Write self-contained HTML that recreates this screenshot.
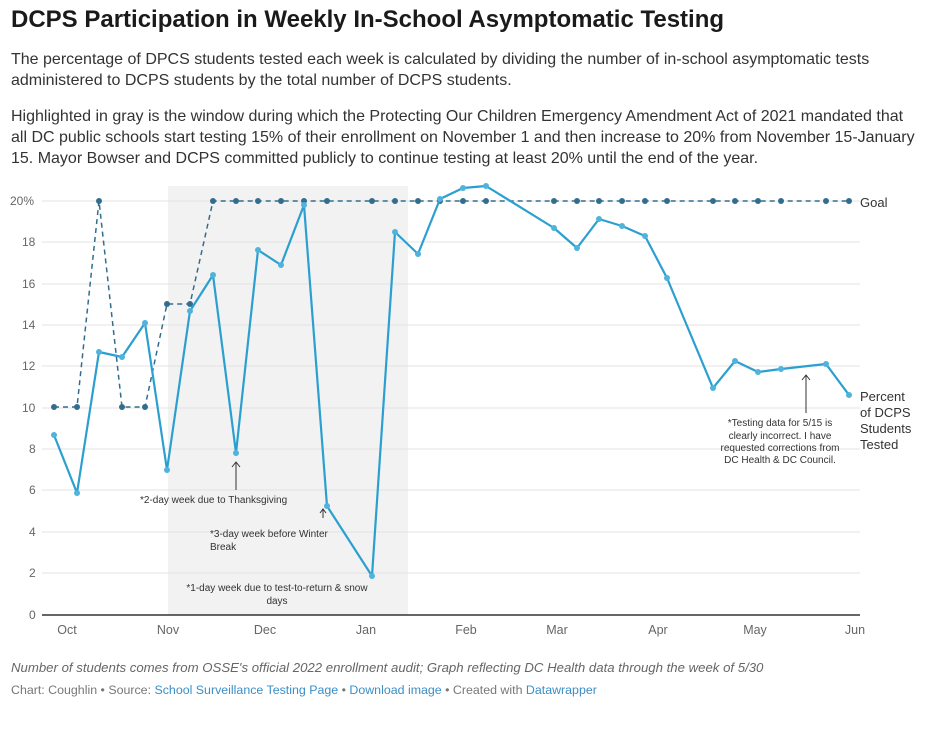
<!DOCTYPE html>
<html><head><meta charset="utf-8"><style>
body{margin:0;background:#fff;width:936px;height:734px;overflow:hidden;font-family:"Liberation Sans",sans-serif;color:#222}
h1{position:absolute;left:11px;top:6px;margin:0;font-size:24px;font-weight:bold;color:#1a1a1a;white-space:nowrap}
.d{position:absolute;left:11px;font-size:16px;line-height:21px;color:#333;white-space:nowrap}
.n{position:absolute;left:11px;top:660px;font-size:13.2px;font-style:italic;color:#666;white-space:nowrap}
.s{position:absolute;left:11px;top:683px;font-size:12.4px;color:#777;white-space:nowrap}
.s a{color:#3a8fc7}
</style></head><body>
<h1>DCPS Participation in Weekly In-School Asymptomatic Testing</h1>
<div class="d" style="top:49px">The percentage of DPCS students tested each week is calculated by dividing the number of in-school asymptomatic tests<br>administered to DCPS students by the total number of DCPS students.</div>
<div class="d" style="top:106px">Highlighted in gray is the window during which the Protecting Our Children Emergency Amendment Act of 2021 mandated that<br>all DC public schools start testing 15% of their enrollment on November 1 and then increase to 20% from November 15-January<br>15. Mayor Bowser and DCPS committed publicly to continue testing at least 20% until the end of the year.</div>
<svg style="position:absolute;left:0;top:0" width="936" height="734" font-family="Liberation Sans, sans-serif">
<rect x="168" y="186" width="240" height="429" fill="#f2f2f2"/>
<g stroke="#e3e3e3" stroke-width="1">
<line x1="42" x2="860" y1="201" y2="201"/><line x1="42" x2="860" y1="242" y2="242"/><line x1="42" x2="860" y1="284" y2="284"/><line x1="42" x2="860" y1="325" y2="325"/><line x1="42" x2="860" y1="366" y2="366"/><line x1="42" x2="860" y1="408" y2="408"/><line x1="42" x2="860" y1="449" y2="449"/><line x1="42" x2="860" y1="490" y2="490"/><line x1="42" x2="860" y1="532" y2="532"/><line x1="42" x2="860" y1="573" y2="573"/>
</g>
<line x1="42" x2="860" y1="615" y2="615" stroke="#333" stroke-width="1.5"/>
<g font-size="12" fill="#666">
<text x="10" y="205">20%</text><text x="22" y="246">18</text><text x="22" y="288">16</text><text x="22" y="329">14</text><text x="22" y="370">12</text><text x="22" y="412">10</text><text x="29" y="453">8</text><text x="29" y="494">6</text><text x="29" y="536">4</text><text x="29" y="577">2</text><text x="29" y="619">0</text>
</g>
<g font-size="12.5" fill="#666" text-anchor="middle">
<text x="67" y="634">Oct</text><text x="168" y="634">Nov</text><text x="265" y="634">Dec</text><text x="366" y="634">Jan</text><text x="466" y="634">Feb</text><text x="557" y="634">Mar</text><text x="658" y="634">Apr</text><text x="755" y="634">May</text><text x="855" y="634">Jun</text>
</g>
<polyline fill="none" stroke="#336d8e" stroke-width="1.5" stroke-dasharray="5,4" points="54,407 77,407 99,201 122,407 145,407 167,304 190,304 213,201 236,201 258,201 281,201 304,201 327,201 372,201 395,201 418,201 440,201 463,201 486,201 554,201 577,201 599,201 622,201 645,201 667,201 713,201 735,201 758,201 781,201 826,201 849,201"/>
<g fill="#336d8e">
<circle cx="54" cy="407" r="3"/><circle cx="77" cy="407" r="3"/><circle cx="99" cy="201" r="3"/><circle cx="122" cy="407" r="3"/><circle cx="145" cy="407" r="3"/><circle cx="167" cy="304" r="3"/><circle cx="190" cy="304" r="3"/><circle cx="213" cy="201" r="3"/><circle cx="236" cy="201" r="3"/><circle cx="258" cy="201" r="3"/><circle cx="281" cy="201" r="3"/><circle cx="304" cy="201" r="3"/><circle cx="327" cy="201" r="3"/><circle cx="372" cy="201" r="3"/><circle cx="395" cy="201" r="3"/><circle cx="418" cy="201" r="3"/><circle cx="440" cy="201" r="3"/><circle cx="463" cy="201" r="3"/><circle cx="486" cy="201" r="3"/><circle cx="554" cy="201" r="3"/><circle cx="577" cy="201" r="3"/><circle cx="599" cy="201" r="3"/><circle cx="622" cy="201" r="3"/><circle cx="645" cy="201" r="3"/><circle cx="667" cy="201" r="3"/><circle cx="713" cy="201" r="3"/><circle cx="735" cy="201" r="3"/><circle cx="758" cy="201" r="3"/><circle cx="781" cy="201" r="3"/><circle cx="826" cy="201" r="3"/><circle cx="849" cy="201" r="3"/>
</g>
<polyline fill="none" stroke="#2b9fd0" stroke-width="2.2" stroke-linejoin="round" points="54,435 77,493 99,352 122,357 145,323 167,470 190,311 213,275 236,453 258,250 281,265 304,205 327,506 372,576 395,232 418,254 440,199 463,188 486,186 554,228 577,248 599,219 622,226 645,236 667,278 713,388 735,361 758,372 781,369 826,364 849,395"/>
<g fill="#4fb3dc">
<circle cx="54" cy="435" r="3"/><circle cx="77" cy="493" r="3"/><circle cx="99" cy="352" r="3"/><circle cx="122" cy="357" r="3"/><circle cx="145" cy="323" r="3"/><circle cx="167" cy="470" r="3"/><circle cx="190" cy="311" r="3"/><circle cx="213" cy="275" r="3"/><circle cx="236" cy="453" r="3"/><circle cx="258" cy="250" r="3"/><circle cx="281" cy="265" r="3"/><circle cx="304" cy="205" r="3"/><circle cx="327" cy="506" r="3"/><circle cx="372" cy="576" r="3"/><circle cx="395" cy="232" r="3"/><circle cx="418" cy="254" r="3"/><circle cx="440" cy="199" r="3"/><circle cx="463" cy="188" r="3"/><circle cx="486" cy="186" r="3"/><circle cx="554" cy="228" r="3"/><circle cx="577" cy="248" r="3"/><circle cx="599" cy="219" r="3"/><circle cx="622" cy="226" r="3"/><circle cx="645" cy="236" r="3"/><circle cx="667" cy="278" r="3"/><circle cx="713" cy="388" r="3"/><circle cx="735" cy="361" r="3"/><circle cx="758" cy="372" r="3"/><circle cx="781" cy="369" r="3"/><circle cx="826" cy="364" r="3"/><circle cx="849" cy="395" r="3"/>
</g>
<g stroke="#333" stroke-width="1" fill="none">
<path d="M236,490 V462 M232,467 L236,462 L240,467"/>
<path d="M323,518 V509 M320,513 L323,509 L326,513"/>
<path d="M806,413 V375 M802,380 L806,375 L810,380"/>
</g>
<g font-size="10" fill="#333">
<text x="140" y="503">*2-day week due to Thanksgiving</text>
<text x="210" y="537">*3-day week before Winter</text><text x="210" y="550">Break</text>
<text x="277" y="591" text-anchor="middle">*1-day week due to test-to-return &amp; snow</text><text x="277" y="604" text-anchor="middle">days</text>
<g text-anchor="middle"><text x="780" y="426">*Testing data for 5/15 is</text><text x="780" y="439">clearly incorrect. I have</text><text x="780" y="451">requested corrections from</text><text x="780" y="463">DC Health &amp; DC Council.</text></g>
</g>
<g font-size="13" fill="#333">
<text x="860" y="207">Goal</text>
<text x="860" y="401">Percent</text><text x="860" y="417">of DCPS</text><text x="860" y="433">Students</text><text x="860" y="449">Tested</text>
</g>
</svg>
<div class="n">Number of students comes from OSSE's official 2022 enrollment audit; Graph reflecting DC Health data through the week of 5/30</div>
<div class="s">Chart: Coughlin • Source: <a>School Surveillance Testing Page</a> • <a>Download image</a> • Created with <a>Datawrapper</a></div>
</body></html>
